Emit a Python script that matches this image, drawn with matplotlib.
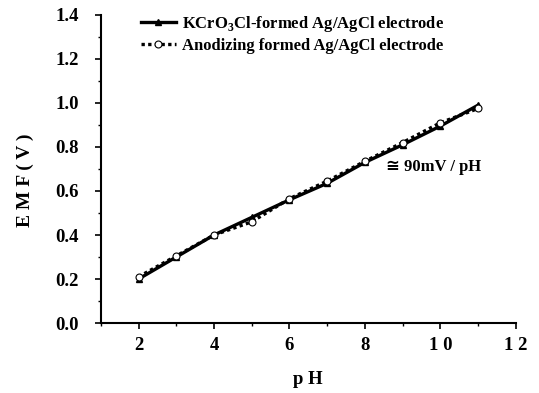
import matplotlib.pyplot as plt
from matplotlib.ticker import MultipleLocator

plt.rcParams['font.family'] = ['Liberation Serif', 'DejaVu Sans']
plt.rcParams['font.weight'] = 'bold'
plt.rcParams['mathtext.fontset'] = 'custom'
plt.rcParams['mathtext.rm'] = 'Liberation Serif:bold'

ph = [2, 3, 4, 5, 6, 7, 8, 9, 10, 11]
emf_kcro3cl = [0.20, 0.30, 0.40, 0.48, 0.56, 0.635, 0.73, 0.81, 0.895, 0.99]
emf_anodizing = [0.21, 0.305, 0.40, 0.46, 0.565, 0.645, 0.735, 0.82, 0.91, 0.975]

fig = plt.figure(figsize=(5.39, 3.93), dpi=100)
ax = fig.add_axes([0.187, 0.178, 0.770, 0.784])

ax.plot(ph, emf_kcro3cl, color='black', lw=2.4, marker='^', ms=5,
        label=r'KCrO$_3$Cl-formed Ag/AgCl electrode')
ax.plot(ph, emf_anodizing, color='black', lw=2.4, ls=(0, (1, 1)), marker='o',
        ms=5, mfc='white', mec='black', mew=0.8,
        label='Anodizing formed Ag/AgCl electrode')

ax.text(8.55, 0.71, '≅ 90mV / pH', fontsize=12, fontweight='bold', va='center',
        family=['Liberation Serif', 'DejaVu Sans'])

ax.set_xlim(1, 12)
ax.set_ylim(0, 1.4)
ax.set_xticks([2, 4, 6, 8, 10, 12])
ax.set_xticklabels(['2', '4', '6', '8', '1 0', '1 2'])
ax.xaxis.set_minor_locator(MultipleLocator(1))
ax.set_yticks([0, 0.2, 0.4, 0.6, 0.8, 1.0, 1.2, 1.4])
ax.set_yticklabels(['0.0', '0.2', '0.4', '0.6', '0.8', '1.0', '1.2', '1.4'])
ax.yaxis.set_minor_locator(MultipleLocator(0.1))
ax.tick_params(which='major', direction='out', length=4, width=1.2, labelsize=13.5)
ax.tick_params(which='minor', direction='out', length=2.5, width=1.0)
ax.tick_params(axis='x', pad=6)
ax.tick_params(axis='y', pad=12)

for s in ['top', 'right']:
    ax.spines[s].set_visible(False)
for s in ['left', 'bottom']:
    ax.spines[s].set_linewidth(1.5)

ax.set_xlabel('p H', fontsize=13.5, fontweight='bold', labelpad=12)
ax.set_ylabel('E M F ( V )', fontsize=14, fontweight='bold')
ax.yaxis.set_label_coords(-0.162, 0.465)

ax.legend(loc='upper left', bbox_to_anchor=(0.08, 1.025), frameon=False,
          fontsize=12, handlelength=2.1, handletextpad=0.4, labelspacing=0.25,
          borderaxespad=0)

fig.savefig('out.png', dpi=100)
